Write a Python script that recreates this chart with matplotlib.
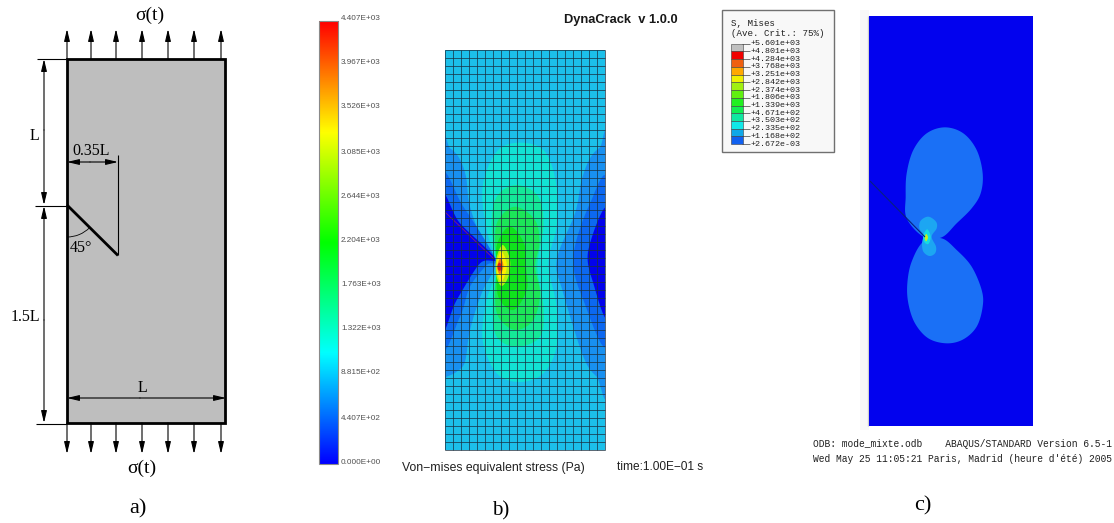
import numpy as np
import matplotlib
matplotlib.use("Agg")
import matplotlib.pyplot as plt
from matplotlib.colors import LinearSegmentedColormap
from matplotlib.patches import Rectangle, Arc

# ---------- data -----------
load_x = [67, 91, 116, 142, 168, 194, 221]
cbar_labels = ["4.407E+03", "3.967E+03", "3.526E+03", "3.085E+03", "2.644E+03",
               "2.204E+03", "1.763E+03", "1.322E+03", "8.815E+02", "4.407E+02", "0.000E+00"]
cbar_label_y = [18, 63, 107, 152, 196, 240, 284, 329, 373, 418, 462]
rainbow = ["#0000FF", "#00FFFF", "#00FF00", "#FFFF00", "#FF0000"]
n_cols, n_rows = 20, 50

b_layers = [
    ("#1890F0", [(420,440),(450,445),(478,475),(498,530),(510,620),(555,740),(590,785),(545,880),(510,990),(495,1085),(470,1115),(440,1130),(420,1135)]),
    ("#1890F0", [(925,432),(900,442),(870,475),(845,540),(825,640),(770,780),(790,880),(850,1070),(890,1130),(925,1150)]),
    ("#0C68F0", [(420,535),(490,620),(585,775),(560,795),(510,860),(480,950),(420,1035)]),
    ("#0C68F0", [(925,550),(870,610),(820,770),(850,900),(925,1030)]),
    ("#0202EC", [(420,590),(480,670),(585,775),(540,790),(470,900),(420,990)]),
    ("#0202EC", [(925,625),(865,750),(880,850),(925,950)]),
    ("#12E2D4", [(660,428),(735,455),(770,560),(770,680),(745,790),(770,920),(770,1040),(730,1120),(660,1146),(590,1120),(548,1020),(560,900),(590,800),(560,690),(548,560),(590,455)]),
    ("#14E898", [(650,555),(715,590),(730,680),(712,800),(730,920),(720,1010),(650,1040),(590,1010),(578,920),(590,800),(575,680),(590,590)]),
    ("#1CE658", [(645,620),(705,660),(718,730),(705,800),(720,880),(700,960),(645,990),(595,950),(585,880),(590,800),(585,720),(595,660)]),
    ("#10E21C", [(630,680),(672,730),(678,800),(680,870),(640,930),(595,890),(590,800),(592,730)]),
    ("#B8EE10", [(608,735),(630,780),(625,830),(605,858),(590,830),(588,780)]),
    ("#FFEE00", [(605,755),(620,790),(615,825),(603,845),(592,820),(592,780)]),
    ("#F08010", [(603,775),(610,795),(606,815),(598,822),(592,805),(595,785)]),
    ("#E01818", [(599,788),(605,798),(601,812),(594,808),(593,795)]),
]
b_base = "#1CC0EA"

# panel c
c_lobes = [
    ("#1A70F6", [(140,265),(137,200),(140,130),(160,60),(200,10),(255,-8),(310,10),(350,60),(368,130),(362,190),(335,235),(290,280),(245,322),(190,320)]),
    ("#1A70F6", [(245,325),(290,360),(335,410),(365,480),(368,530),(350,590),(310,628),(260,640),(205,625),(165,580),(145,520),(142,460),(155,395),(190,335)]),
    ("#1CA6F2", [(205,260),(228,275),(230,295),(215,320),(228,350),(225,370),(208,378),(190,365),(186,340),(190,315),(178,295),(182,272)]),
    ("#14DCE0", [(202,298),(212,320),(205,342),(192,335),(190,315)]),
    ("#C8EE20", [(199,312),(204,323),(198,334),(194,322)]),
]
legend_labels = ["+5.601e+03", "+4.801e+03", "+4.284e+03", "+3.768e+03", "+3.251e+03",
                 "+2.842e+03", "+2.374e+03", "+1.806e+03", "+1.339e+03", "+4.671e+02",
                 "+3.503e+02", "+2.335e+02", "+1.168e+02", "+2.672e-03"]
legend_colors = ["#C0C0C0", "#F00000", "#F06010", "#FFA800", "#F0F000", "#A0F010", "#60F010",
                 "#20F020", "#10F050", "#10E8A0", "#10E8E8", "#10A8E8", "#1060F0", "#0000E0"]

# ---------- canvas -----------
fig = plt.figure(figsize=(11.14, 5.23), dpi=100, facecolor="white")
ax = fig.add_axes([0, 0, 1, 1])
ax.set_axis_off()
SER = "Liberation Serif"
SAN = "Liberation Sans"
MON = "Liberation Mono"


def smooth(points, n=12):
    p = np.array(points, float)
    out = []
    m = len(p)
    for i in range(m):
        p0, p1, p2, p3 = p[(i - 1) % m], p[i], p[(i + 1) % m], p[(i + 2) % m]
        for t in np.linspace(0, 1, n, endpoint=False):
            out.append(0.5 * (2 * p1 + (p2 - p0) * t + (2 * p0 - 5 * p1 + 4 * p2 - p3) * t ** 2
                              + (3 * p1 - p0 - 3 * p2 + p3) * t ** 3))
    return np.array(out)


def arrow(x0, y0, x1, y1, style="-|>", ms=10, lw=0.8):
    ax.annotate("", xy=(x1, y1), xytext=(x0, y0),
                arrowprops=dict(arrowstyle=f"{style},head_length=0.72,head_width=0.17",
                                mutation_scale=ms, lw=lw, color="black",
                                shrinkA=0, shrinkB=0))


def line(xs, ys, lw=0.8, color="black", **kw):
    ax.plot(xs, ys, color=color, lw=lw, solid_capstyle="butt", **kw)


# ---------- panel a -----------
ax.add_patch(Rectangle((66.5, 59), 158, 364, fc="#BEBEBE", ec="black", lw=2.0, zorder=1))
line([67, 118], [205, 255.5], lw=2.0, zorder=3)
for x in load_x:
    arrow(x, 59, x, 29)
    arrow(x, 423, x, 454)
line([37, 66], [59, 59])
line([35, 66], [205.5, 205.5])
line([36, 66], [423.5, 423.5])
arrow(44, 130, 44, 59)
arrow(44, 130, 44, 205)
arrow(44, 320, 44, 206)
arrow(44, 320, 44, 423)
arrow(90, 162, 67, 162)
arrow(90, 162, 118, 162)
line([118, 118], [155, 255])
arrow(140, 398, 67, 398)
arrow(140, 398, 226, 398)
ax.add_patch(Arc((67, 205), 64, 64, theta1=45, theta2=90, color="black", lw=0.6, zorder=3))
for s, x, y, fs in [("σ(t)", 150, 15, 14), ("σ(t)", 142, 468, 14), ("L", 34, 136, 11.5),
                    ("1.5L", 25, 317, 11.5), ("0.35L", 91, 151, 11.5), ("45°", 81, 248, 11.5),
                    ("L", 142, 388, 11.5), ("a)", 138, 509, 16)]:
    ax.text(x, y, s, family=SER, fontsize=fs, ha="center", va="center", zorder=4)

# ---------- panel b -----------
cmap = LinearSegmentedColormap.from_list("rainbow5", rainbow)
grad = np.linspace(1, 0, 256).reshape(-1, 1)
ax.imshow(grad, cmap=cmap, extent=(318.5, 338, 464, 21), aspect="auto", zorder=1)
ax.add_patch(Rectangle((318.5, 21), 19.5, 443, fc="none", ec="#8A8A8A", lw=0.8, zorder=2))
for s, y in zip(cbar_labels, cbar_label_y):
    ax.text(341, y, s, family=SAN, fontsize=5.9, color="#505050", va="center", ha="left")

bx0, bx1, by0, by1 = 444.5, 604.5, 49.5, 449.5
clip = Rectangle((bx0, by0), bx1 - bx0, by1 - by0, transform=ax.transData)
ax.add_patch(Rectangle((bx0, by0), bx1 - bx0, by1 - by0, fc=b_base, ec="none", zorder=1))
for color, pts in b_layers:
    p = smooth(pts)
    poly = ax.fill(300 + p[:, 0] / 3, p[:, 1] / 3, color=color, lw=0, zorder=2)[0]
    poly.set_clip_path(clip)
line([445, 494], [212, 259], lw=0.5, color="#A02060", zorder=3)
ax.vlines(np.linspace(bx0, bx1, n_cols + 1), by0, by1, color="#1A3040", lw=0.6, alpha=0.85, zorder=4)
ax.hlines(np.linspace(by0, by1, n_rows + 1), bx0, bx1, color="#1A3040", lw=0.6, alpha=0.85, zorder=4)
ax.text(564, 20, "DynaCrack  v 1.0.0", family=SAN, fontsize=9.3, weight="bold", color="#181818",
        ha="left", va="center")
ax.text(402, 467.5, "Von−mises equivalent stress (Pa)", family=SAN, fontsize=8.8, color="#202020",
        ha="left", va="center")
ax.text(617, 467, "time:1.00E−01 s", family=SAN, fontsize=8.6, color="#202020", ha="left", va="center")
ax.text(501, 511, "b)", family=SER, fontsize=15, ha="center", va="center")

# ---------- panel c -----------
ax.add_patch(Rectangle((860, 10), 9, 420, fc="#F8F8F8", ec="none", zorder=0))
line([868, 868], [16, 426], lw=1, color="#D0D0D0", zorder=1)
ax.add_patch(Rectangle((869, 16), 164, 410, fc="#0202EE", ec="none", zorder=1))
for color, pts in c_lobes:
    p = smooth(pts)
    ax.fill(860 + p[:, 0] / 3, 130 + p[:, 1] / 3, color=color, lw=0, zorder=2)
line([870, 925], [181, 237], lw=0.8, color="#082080", zorder=3)

ax.add_patch(Rectangle((722, 9.5), 112, 142.5, fc="#F8F8F8", ec="#707070", lw=1, zorder=1))
ax.text(731, 23.5, "S, Mises", family=MON, fontsize=6.6, va="center", zorder=3, color="#202020")
ax.text(731, 34, "(Ave. Crit.: 75%)", family=MON, fontsize=6.6, va="center", zorder=3, color="#202020")
ly0, ldy = 43.7, 7.73
for i, c in enumerate(legend_colors[:-1]):
    ax.add_patch(Rectangle((730.5, ly0 + i * ldy), 12, ldy, fc=c, ec="#404040", lw=0.4, zorder=2))
for i, s in enumerate(legend_labels):
    y = ly0 + i * ldy
    line([742, 750], [y, y], lw=0.5, color="#404040", zorder=2)
    ax.text(750, y, s, family=MON, fontsize=6.0, va="center", zorder=3, color="#202020")
ax.text(813, 444, "ODB: mode_mixte.odb    ABAQUS/STANDARD Version 6.5-1", family=MON, fontsize=6.9,
        va="center", color="#202020")
ax.text(813, 459.5, "Wed May 25 11:05:21 Paris, Madrid (heure d'été) 2005", family=MON, fontsize=6.9,
        va="center", color="#202020")
ax.text(923, 506, "c)", family=SER, fontsize=16, ha="center", va="center")

ax.set_xlim(0, 1114)
ax.set_ylim(523, 0)
fig.savefig("out.png", dpi=100, facecolor="white")
